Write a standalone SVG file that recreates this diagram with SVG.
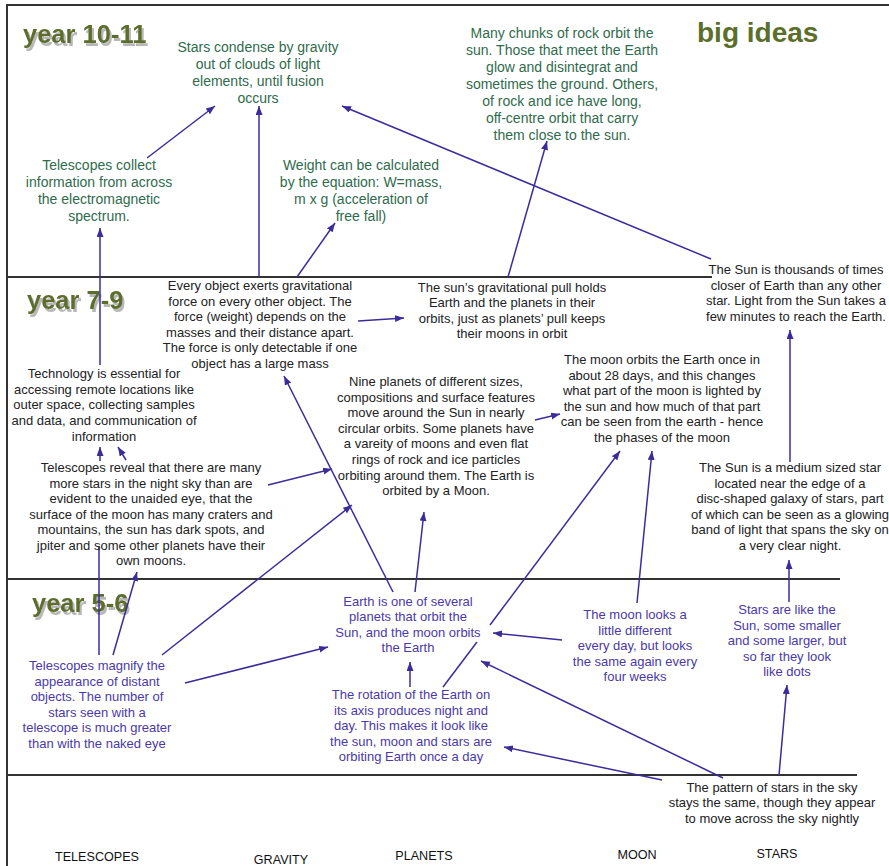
<svg xmlns="http://www.w3.org/2000/svg" width="889" height="866" viewBox="0 0 889 866">
<style>
text{font-family:"Liberation Sans",Arial,sans-serif}
.g{font-size:14px;fill:#2f6b4c;text-anchor:middle}
.k{font-size:13px;fill:#222;text-anchor:middle}
.p{font-size:13px;fill:#4a3aa6;text-anchor:middle}
.col{font-size:12.6px;fill:#111;text-anchor:middle}
.yr{font-size:25.5px;font-weight:bold;fill:#5b6e2b;filter:url(#shadow)}
.frame{stroke:#333;stroke-width:2;fill:none}
.c line,.c path{stroke:#3b2c9c;stroke-width:1.5;fill:none}
</style>
<defs>
<marker id="ah" markerUnits="userSpaceOnUse" markerWidth="10" markerHeight="8" refX="9" refY="3.5" orient="auto">
<path d="M0,0 L9,3.5 L0,7 z" fill="#3b2c9c"/>
</marker>
<filter id="shadow" x="-10%" y="-20%" width="130%" height="160%">
<feDropShadow dx="2" dy="3" stdDeviation="0.7" flood-color="#b8b8b8" flood-opacity="1"/>
</filter>
</defs>
<rect width="889" height="866" fill="#fff"/>
<g id="frame" class="frame">
<line x1="7" y1="5" x2="889" y2="5"/>
<line x1="7" y1="4" x2="7" y2="866"/>
<line x1="7" y1="277" x2="712" y2="277"/>
<line x1="7" y1="579" x2="840" y2="579"/>
<line x1="7" y1="775" x2="857" y2="775"/>
</g>
<g id="year-labels">
<text class="yr" x="23" y="43">year 10-11</text>
<text class="yr" x="27" y="309">year 7-9</text>
<text class="yr" x="32" y="612">year 5-6</text>
<text x="697" y="42" style="font-size:28px;font-weight:bold;fill:#5b6e2b">big ideas</text>
</g>
<g class="c" id="connectors">
<line x1="100" y1="365" x2="100" y2="228" marker-end="url(#ah)"/>
<line x1="147" y1="158" x2="215" y2="106" marker-end="url(#ah)"/>
<line x1="259" y1="277" x2="259" y2="106" marker-end="url(#ah)"/>
<line x1="297" y1="277" x2="335" y2="223" marker-end="url(#ah)"/>
<line x1="711" y1="259" x2="342" y2="106" marker-end="url(#ah)"/>
<line x1="508" y1="277" x2="547" y2="141" marker-end="url(#ah)"/>
<line x1="358" y1="321" x2="404" y2="318" marker-end="url(#ah)"/>
<line x1="393" y1="592" x2="284" y2="376" marker-end="url(#ah)"/>
<line x1="100" y1="461" x2="100" y2="447" marker-end="url(#ah)"/>
<line x1="126" y1="460" x2="118" y2="447" marker-end="url(#ah)"/>
<line x1="268" y1="485" x2="332" y2="469" marker-end="url(#ah)"/>
<line x1="162" y1="655" x2="352" y2="505" marker-end="url(#ah)"/>
<line x1="99" y1="655" x2="99" y2="546"/>
<line x1="113" y1="655" x2="137" y2="572" marker-end="url(#ah)"/>
<line x1="185" y1="683" x2="328" y2="647" marker-end="url(#ah)"/>
<line x1="415" y1="592" x2="424" y2="512" marker-end="url(#ah)"/>
<line x1="410" y1="687" x2="410" y2="662" marker-end="url(#ah)"/>
<line x1="443" y1="687" x2="477" y2="642"/>
<line x1="490" y1="625" x2="620" y2="451" marker-end="url(#ah)"/>
<line x1="562" y1="640" x2="493" y2="633" marker-end="url(#ah)"/>
<line x1="637" y1="603" x2="652" y2="451" marker-end="url(#ah)"/>
<line x1="535" y1="420" x2="560" y2="414" marker-end="url(#ah)"/>
<line x1="790" y1="462" x2="790" y2="330" marker-end="url(#ah)"/>
<line x1="789" y1="602" x2="789" y2="560" marker-end="url(#ah)"/>
<line x1="779" y1="775" x2="787" y2="685" marker-end="url(#ah)"/>
<line x1="662" y1="780" x2="504" y2="747" marker-end="url(#ah)"/>
<line x1="723" y1="778" x2="481" y2="661" marker-end="url(#ah)"/>
</g>
<g id="n-stars-condense"><text class="g" x="258" y="52"><tspan x="258">Stars condense by gravity</tspan><tspan x="258" dy="17">out of clouds of light</tspan><tspan x="258" dy="17">elements, until fusion</tspan><tspan x="258" dy="17">occurs</tspan></text></g>
<g id="n-telescopes-collect"><text class="g" x="99" y="170"><tspan x="99">Telescopes collect</tspan><tspan x="99" dy="17">information from across</tspan><tspan x="99" dy="17">the electromagnetic</tspan><tspan x="99" dy="17">spectrum.</tspan></text></g>
<g id="n-weight"><text class="g" x="361" y="170"><tspan x="361">Weight can be calculated</tspan><tspan x="361" dy="17">by the equation: W=mass,</tspan><tspan x="361" dy="17">m x g (acceleration of</tspan><tspan x="361" dy="17">free fall)</tspan></text></g>
<g id="n-chunks"><text class="g" x="562" y="38"><tspan x="562">Many chunks of rock orbit the</tspan><tspan x="562" dy="17">sun. Those that meet the Earth</tspan><tspan x="562" dy="17">glow and disintegrat and</tspan><tspan x="562" dy="17">sometimes the ground. Others,</tspan><tspan x="562" dy="17">of rock and ice have long,</tspan><tspan x="562" dy="17">off-centre orbit that carry</tspan><tspan x="562" dy="17">them close to the sun.</tspan></text></g>
<g id="n-every-object"><text class="k" x="260" y="290"><tspan x="260">Every object exerts gravitational</tspan><tspan x="260" dy="15.6">force on every other object. The</tspan><tspan x="260" dy="15.6">force (weight) depends on the</tspan><tspan x="260" dy="15.6">masses and their distance apart.</tspan><tspan x="260" dy="15.6">The force is only detectable if one</tspan><tspan x="260" dy="15.6">object has a large mass</tspan></text></g>
<g id="n-sun-pull"><text class="k" x="512" y="292"><tspan x="512">The sun’s gravitational pull holds</tspan><tspan x="512" dy="15.4">Earth and the planets in their</tspan><tspan x="512" dy="15.4">orbits, just as planets’ pull keeps</tspan><tspan x="512" dy="15.4">their moons in orbit</tspan></text></g>
<g id="n-sun-closer"><text class="k" x="796" y="274"><tspan x="796">The Sun is thousands of times</tspan><tspan x="796" dy="15.6">closer of Earth than any other</tspan><tspan x="796" dy="15.6">star. Light from the Sun takes a</tspan><tspan x="796" dy="15.6">few minutes to reach the Earth.</tspan></text></g>
<g id="n-technology"><text class="k" x="104" y="378"><tspan x="104">Technology is essential for</tspan><tspan x="104" dy="15.7">accessing remote locations like</tspan><tspan x="104" dy="15.7">outer space, collecting samples</tspan><tspan x="104" dy="15.7">and data, and communication of</tspan><tspan x="104" dy="15.7">information</tspan></text></g>
<g id="n-telescopes-reveal"><text class="k" x="151" y="472"><tspan x="151">Telescopes reveal that there are many</tspan><tspan x="151" dy="15.5">more stars in the night sky than are</tspan><tspan x="151" dy="15.5">evident to the unaided eye, that the</tspan><tspan x="151" dy="15.5">surface of the moon has many craters and</tspan><tspan x="151" dy="15.5">mountains, the sun has dark spots, and</tspan><tspan x="151" dy="15.5">jpiter and some other planets have their</tspan><tspan x="151" dy="15.5">own moons.</tspan></text></g>
<g id="n-nine-planets"><text class="k" x="436" y="386"><tspan x="436">Nine planets of different sizes,</tspan><tspan x="436" dy="15.6">compositions and surface features</tspan><tspan x="436" dy="15.6">move around the Sun in nearly</tspan><tspan x="436" dy="15.6">circular orbits. Some planets have</tspan><tspan x="436" dy="15.6">a vareity of moons and even flat</tspan><tspan x="436" dy="15.6">rings of rock and ice particles</tspan><tspan x="436" dy="15.6">orbiting around them. The Earth is</tspan><tspan x="436" dy="15.6">orbited by a Moon.</tspan></text></g>
<g id="n-moon-orbits"><text class="k" x="662" y="364"><tspan x="662">The moon orbits the Earth once in</tspan><tspan x="662" dy="15.6">about 28 days, and this changes</tspan><tspan x="662" dy="15.6">what part of the moon is lighted by</tspan><tspan x="662" dy="15.6">the sun and how much of that part</tspan><tspan x="662" dy="15.6">can be seen from the earth - hence</tspan><tspan x="662" dy="15.6">the phases of the moon</tspan></text></g>
<g id="n-sun-medium"><text class="k" x="790" y="472"><tspan x="790">The Sun is a medium sized star</tspan><tspan x="790" dy="15.6">located near the edge of a</tspan><tspan x="790" dy="15.6">disc-shaped galaxy of stars, part</tspan><tspan x="790" dy="15.6">of which can be seen as a glowing</tspan><tspan x="790" dy="15.6">band of light that spans the sky on</tspan><tspan x="790" dy="15.6">a very clear night.</tspan></text></g>
<g id="n-earth-one"><text class="p" x="408" y="606"><tspan x="408">Earth is one of several</tspan><tspan x="408" dy="15.4">planets that orbit the</tspan><tspan x="408" dy="15.4">Sun, and the moon orbits</tspan><tspan x="408" dy="15.4">the Earth</tspan></text></g>
<g id="n-telescopes-magnify"><text class="p" x="97" y="670"><tspan x="97">Telescopes magnify the</tspan><tspan x="97" dy="15.6">appearance of distant</tspan><tspan x="97" dy="15.6">objects. The number of</tspan><tspan x="97" dy="15.6">stars seen with a</tspan><tspan x="97" dy="15.6">telescope is much greater</tspan><tspan x="97" dy="15.6">than with the naked eye</tspan></text></g>
<g id="n-rotation"><text class="p" x="411" y="699"><tspan x="411">The rotation of the Earth on</tspan><tspan x="411" dy="15.5">its axis produces night and</tspan><tspan x="411" dy="15.5">day. This makes it look like</tspan><tspan x="411" dy="15.5">the sun, moon and stars are</tspan><tspan x="411" dy="15.5">orbiting Earth once a day</tspan></text></g>
<g id="n-moon-looks"><text class="p" x="635" y="619"><tspan x="635">The moon looks a</tspan><tspan x="635" dy="15.5">little different</tspan><tspan x="635" dy="15.5">every day, but looks</tspan><tspan x="635" dy="15.5">the same again every</tspan><tspan x="635" dy="15.5">four weeks</tspan></text></g>
<g id="n-stars-like"><text class="p" x="787" y="614"><tspan x="787">Stars are like the</tspan><tspan x="787" dy="15.5">Sun, some smaller</tspan><tspan x="787" dy="15.5">and some larger, but</tspan><tspan x="787" dy="15.5">so far they look</tspan><tspan x="787" dy="15.5">like dots</tspan></text></g>
<g id="n-pattern"><text class="k" x="772" y="792"><tspan x="772">The pattern of stars in the sky</tspan><tspan x="772" dy="15.4">stays the same, though they appear</tspan><tspan x="772" dy="15.4">to move across the sky nightly</tspan></text></g>
<g id="columns">
<text class="col" x="97" y="861">TELESCOPES</text>
<text class="col" x="281" y="864">GRAVITY</text>
<text class="col" x="424" y="860">PLANETS</text>
<text class="col" x="637" y="859">MOON</text>
<text class="col" x="777" y="858">STARS</text>
</g>
</svg>
